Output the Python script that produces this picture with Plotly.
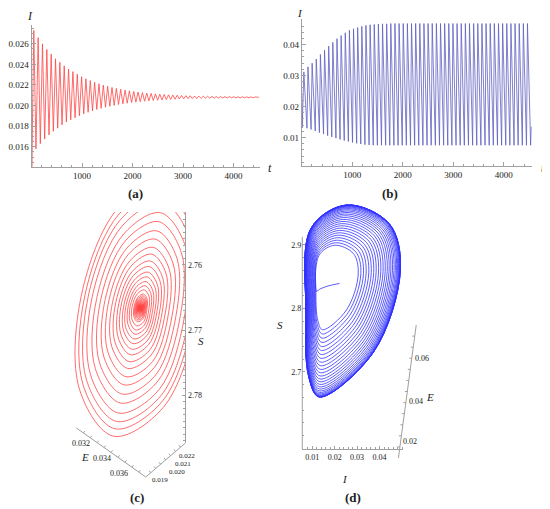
import plotly.graph_objects as go

# the page body keeps its default 8 px margin, so the figure is placed at (8, 8)
W, H = 550, 509
OFF = 8
FW, FH = W - OFF, H - OFF
SERIF = "Liberation Serif, DejaVu Serif, Times New Roman, serif"
AXIS = "#a0a0a0"
TXT = "#222222"

# (a) I(t): damped oscillation
a_start_t = [0, 6]
a_start_i = [0.0233, 0.01406]
a_peak_t = [45, 131, 217, 303, 389, 475, 561, 647, 733, 819, 905, 991, 1077,
            1163, 1249, 1335, 1421, 1507, 1593, 1679, 1765, 1851, 1937, 2023,
            2109, 2195, 2281, 2367, 2453, 2539, 2625, 2711, 2797, 2883, 2969,
            3055, 3141, 3227, 3313, 3399, 3485, 3571, 3657, 3743, 3829, 3915,
            4001, 4087, 4173, 4259, 4345, 4431]
a_peak_i = [0.0273, 0.0266, 0.0260, 0.02545, 0.0250, 0.02455, 0.0242, 0.02385,
            0.02355, 0.0233, 0.02305, 0.0228, 0.0226, 0.02243, 0.02227, 0.02212,
            0.02199, 0.02187, 0.02176, 0.02167, 0.02158, 0.0215, 0.02143, 0.02137,
            0.02131, 0.02126, 0.02122, 0.02118, 0.02114, 0.02111, 0.02108, 0.02105,
            0.02102, 0.0210, 0.02098, 0.02096, 0.02095, 0.02093, 0.02092, 0.02091,
            0.0209, 0.02089, 0.02088, 0.02088, 0.02087, 0.02087, 0.02086, 0.02086,
            0.02085, 0.02085, 0.02085, 0.02084]
a_trough_t = [88, 174, 260, 346, 432, 518, 604, 690, 776, 862, 948, 1034, 1120,
              1206, 1292, 1378, 1464, 1550, 1636, 1722, 1808, 1894, 1980, 2066,
              2152, 2238, 2324, 2410, 2496, 2582, 2668, 2754, 2840, 2926, 3012,
              3098, 3184, 3270, 3356, 3442, 3528, 3614, 3700, 3786, 3872, 3958,
              4044, 4130, 4216, 4302, 4388, 4474]
a_trough_i = [0.0158, 0.0163, 0.01675, 0.01715, 0.0175, 0.0178, 0.01813, 0.0184,
              0.01862, 0.01882, 0.01902, 0.0192, 0.01935, 0.01949, 0.01962, 0.01973,
              0.01984, 0.01993, 0.02002, 0.0201, 0.02017, 0.02023, 0.02029, 0.02034,
              0.02038, 0.02042, 0.02046, 0.02049, 0.02052, 0.02055, 0.02058, 0.0206,
              0.02062, 0.02064, 0.02065, 0.02067, 0.02068, 0.02069, 0.0207, 0.02071,
              0.02072, 0.02073, 0.02073, 0.02074, 0.02074, 0.02075, 0.02075, 0.02075,
              0.02076, 0.02076, 0.02076, 0.02077]
a_end_t = [4500]
a_end_i = [0.0208]

# (b) I(t): growth to a limit cycle
b_start_t = [0, 8]
b_start_i = [0.0235, 0.0131]
b_peak_t = [40, 122, 204, 286, 368, 450, 532, 614, 696, 778, 860, 942, 1024,
            1106, 1188, 1270, 1352, 1434, 1516, 1598, 1680, 1762, 1844, 1926,
            2008, 2090, 2172, 2254, 2336, 2418, 2500, 2582, 2664, 2746, 2828,
            2910, 2992, 3074, 3156, 3238, 3320, 3402, 3484, 3566, 3648, 3730,
            3812, 3894, 3976, 4058, 4140, 4222, 4304, 4386, 4468]
b_peak_i = [0.0312, 0.0328, 0.0340, 0.0353, 0.0368, 0.0382, 0.0395, 0.0407,
            0.0419, 0.0429, 0.0438, 0.0446, 0.0451, 0.0455, 0.0459, 0.0462,
            0.0464, 0.0465, 0.0466, 0.0467, 0.0467, 0.0468, 0.0468, 0.0468,
            0.0468, 0.0468, 0.0468, 0.0468, 0.0468, 0.0468, 0.0468, 0.0468,
            0.0468, 0.0468, 0.0468, 0.0468, 0.0468, 0.0468, 0.0468, 0.0468,
            0.0468, 0.0468, 0.0468, 0.0468, 0.0468, 0.0468, 0.0468, 0.0468,
            0.0468, 0.0468, 0.0468, 0.0468, 0.0468, 0.0468, 0.0468]
b_trough_t = [102, 184, 266, 348, 430, 512, 594, 676, 758, 840, 922, 1004, 1086,
              1168, 1250, 1332, 1414, 1496, 1578, 1660, 1742, 1824, 1906, 1988,
              2070, 2152, 2234, 2316, 2398, 2480, 2562, 2644, 2726, 2808, 2890,
              2972, 3054, 3136, 3218, 3300, 3382, 3464, 3546, 3628, 3710, 3792,
              3874, 3956, 4038, 4120, 4202, 4284, 4366, 4448, 4530]
b_trough_i = [0.0130, 0.0126, 0.0121, 0.0116, 0.0111, 0.0106, 0.0102, 0.0098,
              0.0094, 0.0090, 0.0087, 0.0084, 0.0081, 0.0079, 0.0077, 0.0076,
              0.0075, 0.0075, 0.0075, 0.0075, 0.0075, 0.0075, 0.0075, 0.0075,
              0.0075, 0.0075, 0.0075, 0.0075, 0.0075, 0.0075, 0.0075, 0.0075,
              0.0075, 0.0075, 0.0075, 0.0075, 0.0075, 0.0075, 0.0075, 0.0075,
              0.0075, 0.0075, 0.0075, 0.0075, 0.0075, 0.0075, 0.0075, 0.0075,
              0.0075, 0.0075, 0.0075, 0.0075, 0.0075, 0.0075, 0.0075]
b_end_t = [4545]
b_end_i = [0.0135]

# (c) stable focus: loop shape (offsets from the equilibrium) and loop sizes
c_center_i = 0.0208
c_center_s = 2.7666
c_loop_di = [0.004075, 0.0042, 0.001867, -0.001558, -0.004075, -0.0042, -0.001867, 0.001558]
c_loop_ds = [0.0016, -0.010308, -0.016169, -0.012569, -0.0016, 0.010308, 0.016169, 0.012569]
c_loop_size = [1.22, 1.15, 1.08, 1.0, 0.905, 0.82, 0.733, 0.655, 0.576,
               0.511, 0.446, 0.393, 0.34, 0.295, 0.25, 0.21, 0.171, 0.132, 0.115,
               0.1, 0.088, 0.078, 0.069, 0.06, 0.053, 0.047, 0.042, 0.037, 0.033,
               0.029, 0.026, 0.023, 0.02, 0.018, 0.016, 0.014, 0.012, 0.011, 0.01]

# (d) limit cycle: outer cycle points, centre and loop sizes (inner -> outer)
d_center_i = 0.01575
d_center_s = 2.8496
d_cycle_i = [0.00715, 0.00957, 0.02545, 0.0444, 0.04927, 0.03736, 0.0131, 0.00847]
d_cycle_s = [2.7976, 2.9268, 2.963, 2.9331, 2.8606, 2.7315, 2.6606, 2.6921]
d_loop_size = [0.44, 0.475, 0.51, 0.545, 0.58, 0.613, 0.646, 0.678, 0.71, 0.74,
               0.77, 0.798, 0.825, 0.85, 0.873, 0.895, 0.915, 0.933, 0.949, 0.962,
               0.973, 0.982, 0.989, 0.994, 0.997, 0.999, 1.0, 1.0, 1.0]
d_start_i = [0.02214, 0.01707, 0.0131]
d_start_s = [2.8394, 2.8354, 2.8299]


def zigzag(st, sv, pt, pv, tt, tv, et, ev):
    t, v = list(st), list(sv)
    for p_t, p_v, q_t, q_v in zip(pt, pv, tt, tv):
        t += [p_t, q_t]
        v += [p_v, q_v]
    return t + et, v + ev


def loops(ci, cs, di, ds, sizes):
    xs, ys = [], []
    for r in sizes:
        for dx, dy in zip(di, ds):
            xs.append(ci + r * dx)
            ys.append(cs + r * dy)
    return xs, ys


ta, ia = zigzag(a_start_t, a_start_i, a_peak_t, a_peak_i, a_trough_t, a_trough_i, a_end_t, a_end_i)
tb, ib = zigzag(b_start_t, b_start_i, b_peak_t, b_peak_i, b_trough_t, b_trough_i, b_end_t, b_end_i)
ic, sc = loops(c_center_i, c_center_s, c_loop_di, c_loop_ds, c_loop_size)
d_di = [v - d_center_i for v in d_cycle_i]
d_ds = [v - d_center_s for v in d_cycle_s]
idd, sdd = loops(d_center_i, d_center_s, d_di, d_ds, d_loop_size)
idd = d_start_i + idd
sdd = d_start_s + sdd

fig = go.Figure()
fig.add_trace(go.Scatter(x=ta, y=ia, mode="lines", line=dict(color="rgb(255,70,70)", width=0.8),
                         xaxis="x", yaxis="y", hoverinfo="skip"))
fig.add_trace(go.Scatter(x=tb, y=ib, mode="lines", line=dict(color="rgb(95,95,195)", width=0.8),
                         xaxis="x2", yaxis="y2", hoverinfo="skip"))
fig.add_trace(go.Scatter(x=ic, y=sc, mode="lines", line=dict(color="rgb(255,70,70)", width=0.8, shape="spline"),
                         xaxis="x3", yaxis="y3", hoverinfo="skip"))
fig.add_trace(go.Scatter(x=idd, y=sdd, mode="lines", line=dict(color="rgb(50,50,255)", width=0.8, shape="spline"),
                         xaxis="x4", yaxis="y4", hoverinfo="skip"))


# page pixels -> figure paper fractions
def fx(x):
    return (x - OFF) / FW


def fy(y):
    return 1 - (y - OFF) / FH


def px(x0, x1):
    return [fx(x0), fx(x1)]


def py(top, bottom):
    return [fy(bottom), fy(top)]


def ax(size=9, **kw):
    d = dict(showline=True, linecolor=AXIS, linewidth=1, ticks="inside", ticklen=4,
             tickcolor=AXIS, showgrid=False, zeroline=False,
             tickfont=dict(family=SERIF, size=size, color=TXT))
    d.update(kw)
    return d


def minor(**kw):
    d = dict(ticks="inside", ticklen=2, tickcolor=AXIS, showgrid=False)
    d.update(kw)
    return d


fig.update_layout(
    width=FW, height=FH, margin=dict(l=0, r=0, t=0, b=0),
    paper_bgcolor="white", plot_bgcolor="white", showlegend=False,
    font=dict(family=SERIF, color=TXT),
    xaxis=ax(domain=px(26.7, 257.7), range=[0, 4530], anchor="y",
             tickvals=[1000, 2000, 3000, 4000], minor=minor(tick0=0, dtick=200)),
    yaxis=ax(domain=py(25, 166.7), range=[0.01406, 0.02783], anchor="x",
             tickvals=[0.016, 0.018, 0.020, 0.022, 0.024, 0.026], tickformat=".3f",
             minor=minor(tick0=0.016, dtick=0.0005)),
    xaxis2=ax(domain=px(299.5, 531.6), range=[0, 4553], anchor="y2",
              tickvals=[1000, 2000, 3000, 4000], minor=minor(tick0=0, dtick=200)),
    yaxis2=ax(domain=py(19, 166), range=[0.0008, 0.04826], anchor="x2",
              tickvals=[0.01, 0.02, 0.03, 0.04], tickformat=".2f",
              minor=minor(tick0=0.0, dtick=0.002)),
    xaxis3=dict(domain=px(55, 182), range=[0.013992, 0.024575], anchor="y3", visible=False),
    yaxis3=ax(size=8, domain=py(212, 443), range=[2.78738, 2.75185], anchor="x3", side="right",
              tickvals=[2.76, 2.77, 2.78], tickformat=".2f", ticklen=3,
              minor=minor(tick0=2.75, dtick=0.001)),
    xaxis4=ax(size=8, domain=px(300, 402), range=[0.005602, 0.050595], anchor="y4",
              tickvals=[0.01, 0.02, 0.03, 0.04], tickformat=".2f", ticklen=3,
              minor=minor(tick0=0, dtick=0.002)),
    yaxis4=ax(size=8, domain=py(200.5, 449), range=[2.5787, 2.97], anchor="x4", showline=False,
              tickvals=[2.7, 2.8, 2.9], tickformat=".1f", ticklen=3,
              minor=minor(tickmode="array", tickvals=[2.60, 2.62, 2.64, 2.66, 2.68, 2.72, 2.74, 2.76,
                                                       2.78, 2.82, 2.84, 2.86, 2.88])),
)

shapes = []


def seg(x0, y0, x1, y1):
    shapes.append(dict(type="line", xref="paper", yref="paper", x0=fx(x0), y0=fy(y0),
                       x1=fx(x1), y1=fy(y1), line=dict(color=AXIS, width=1)))


def seg_ticks(x0, y0, x1, y1, n, dx, dy):
    for k in range(1, n):
        f = k / n
        x = x0 + f * (x1 - x0)
        y = y0 + f * (y1 - y0)
        seg(x, y, x + dx, y + dy)


# (c) oblique E and I axes
seg(182, 443, 142, 477)
seg(142, 477, 72, 428)
seg_ticks(182, 443, 142, 477, 8, -1.5, -2)
seg_ticks(142, 477, 72, 428, 10, 1.5, -2)
# (d) S axis line and oblique E axis
shapes.append(dict(type="line", xref="x4 domain", yref="y4", x0=0, x1=0, y0=2.5787, y1=2.913,
                   line=dict(color=AXIS, width=1)))
seg(397, 458, 415, 325)
seg_ticks(397, 458, 415, 325, 12, -2.5, 0)
fig.update_layout(shapes=shapes)


def note(text, x, y, size=9):
    return dict(text=text, x=fx(x), y=fy(y), xref="paper", yref="paper", showarrow=False,
                xanchor="center", yanchor="middle", font=dict(family=SERIF, size=size, color=TXT))


fig.update_layout(annotations=[
    note("<i>I</i>", 25, 16, 12),
    note("<i>t</i>", 267, 168, 12),
    note("<i>I</i>", 298, 13, 11),
    note("<i>t</i>", 543, 168, 12),
    note("<b>(a)</b>", 132, 193, 13),
    note("<b>(b)</b>", 389, 193, 13),
    note("<b>(c)</b>", 133, 497, 13),
    note("<b>(d)</b>", 351, 497, 13),
    note("<i>S</i>", 198, 341, 11),
    note("0.022", 184, 456, 7),
    note("0.021", 180, 464, 7),
    note("0.020", 174, 472, 7),
    note("0.019", 156, 480, 7),
    note("0.032", 77, 443, 8),
    note("<i>E</i>", 81, 457, 11),
    note("0.034", 98, 458, 8),
    note("0.036", 115, 473, 8),
    note("<i>S</i>", 277, 325, 11),
    note("<i>I</i>", 343, 479, 11),
    note("<i>E</i>", 429, 397, 11),
    note("0.02", 409, 441, 8),
    note("0.04", 415, 401, 8),
    note("0.06", 421, 358, 8),
])

fig.write_html("out.html")
